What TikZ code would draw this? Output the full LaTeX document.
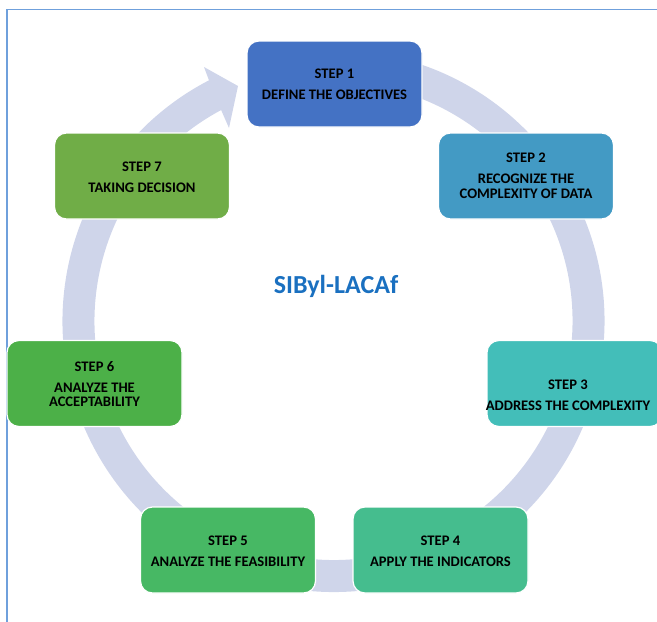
\documentclass[tikz,border=0pt]{standalone}
\usepackage{fontspec}
\setmainfont{Carlito}
\definecolor{bandc}{HTML}{CFD5EA}
\definecolor{cA}{HTML}{4472C4}
\definecolor{cB}{HTML}{439AC4}
\definecolor{cC}{HTML}{43BEB9}
\definecolor{cD}{HTML}{45BD8E}
\definecolor{cE}{HTML}{47B864}
\definecolor{cF}{HTML}{4CB048}
\definecolor{cG}{HTML}{70AD47}
\definecolor{titlec}{HTML}{1A70C0}
\definecolor{framec}{HTML}{6FA0DC}
\tikzset{
  stepbox/.style={draw=white, line width=1.2pt, rounded corners=12pt,
    minimum width=175pt, minimum height=86pt, inner sep=0pt},
  steptext/.style={align=center, text=black, inner sep=0pt,
    font=\fontsize{14.6}{14.6}\selectfont\bfseries},
  band/.style={draw=bandc, line width=32pt},
}
\begin{document}
\begin{tikzpicture}[x=1pt,y=-1pt]
\useasboundingbox (0,0) rectangle (657,622);
\clip (0,0) rectangle (657,622);
% frame
\draw[framec, line width=1.3pt] (7,623) -- (7,9.3) -- (658,9.3);
% circular band
\coordinate (ctr) at (333.5,321);
\draw[band] (ctr) ++(-80:255) arc[start angle=-80, end angle=243, radius=255];
\fill[bandc] (210,83) -- (204,67) -- (238,86) -- (229,128) -- (222,112) -- cycle;
% boxes
\node[stepbox, fill=cA] (s1) at (334.5,84) {};
\node[steptext] (t1) at (334.5,84) {STEP 1\\[6.5pt]DEFINE THE OBJECTIVES};
\node[stepbox, fill=cB] (s2) at (526,176) {};
\node[steptext] (t2) at (526,176) {STEP 2\\[6.5pt]RECOGNIZE THE\\COMPLEXITY OF DATA};
\node[stepbox, fill=cC] (s3) at (574.5,383.5) {};
\node[steptext] (t3) at (568,395) {STEP 3\\[6.5pt]ADDRESS THE COMPLEXITY};
\node[stepbox, fill=cD] (s4) at (440.5,550) {};
\node[steptext] (t4) at (440.5,551) {STEP 4\\[6.5pt]APPLY THE INDICATORS};
\node[stepbox, fill=cE] (s5) at (228,550) {};
\node[steptext] (t5) at (228,551) {STEP 5\\[6.5pt]ANALYZE THE FEASIBILITY};
\node[stepbox, fill=cF] (s6) at (94.5,383.5) {};
\node[steptext] (t6) at (94.5,384) {STEP 6\\[6.5pt]ANALYZE THE\\ACCEPTABILITY};
\node[stepbox, fill=cG] (s7) at (142,176) {};
\node[steptext] (t7) at (142,177) {STEP 7\\[6.5pt]TAKING DECISION};
% title
\node[text=titlec, font=\fontsize{26}{30}\selectfont\bfseries, inner sep=0pt] (title) at (336,286) {SIByl-LACAf};
\end{tikzpicture}
\end{document}
